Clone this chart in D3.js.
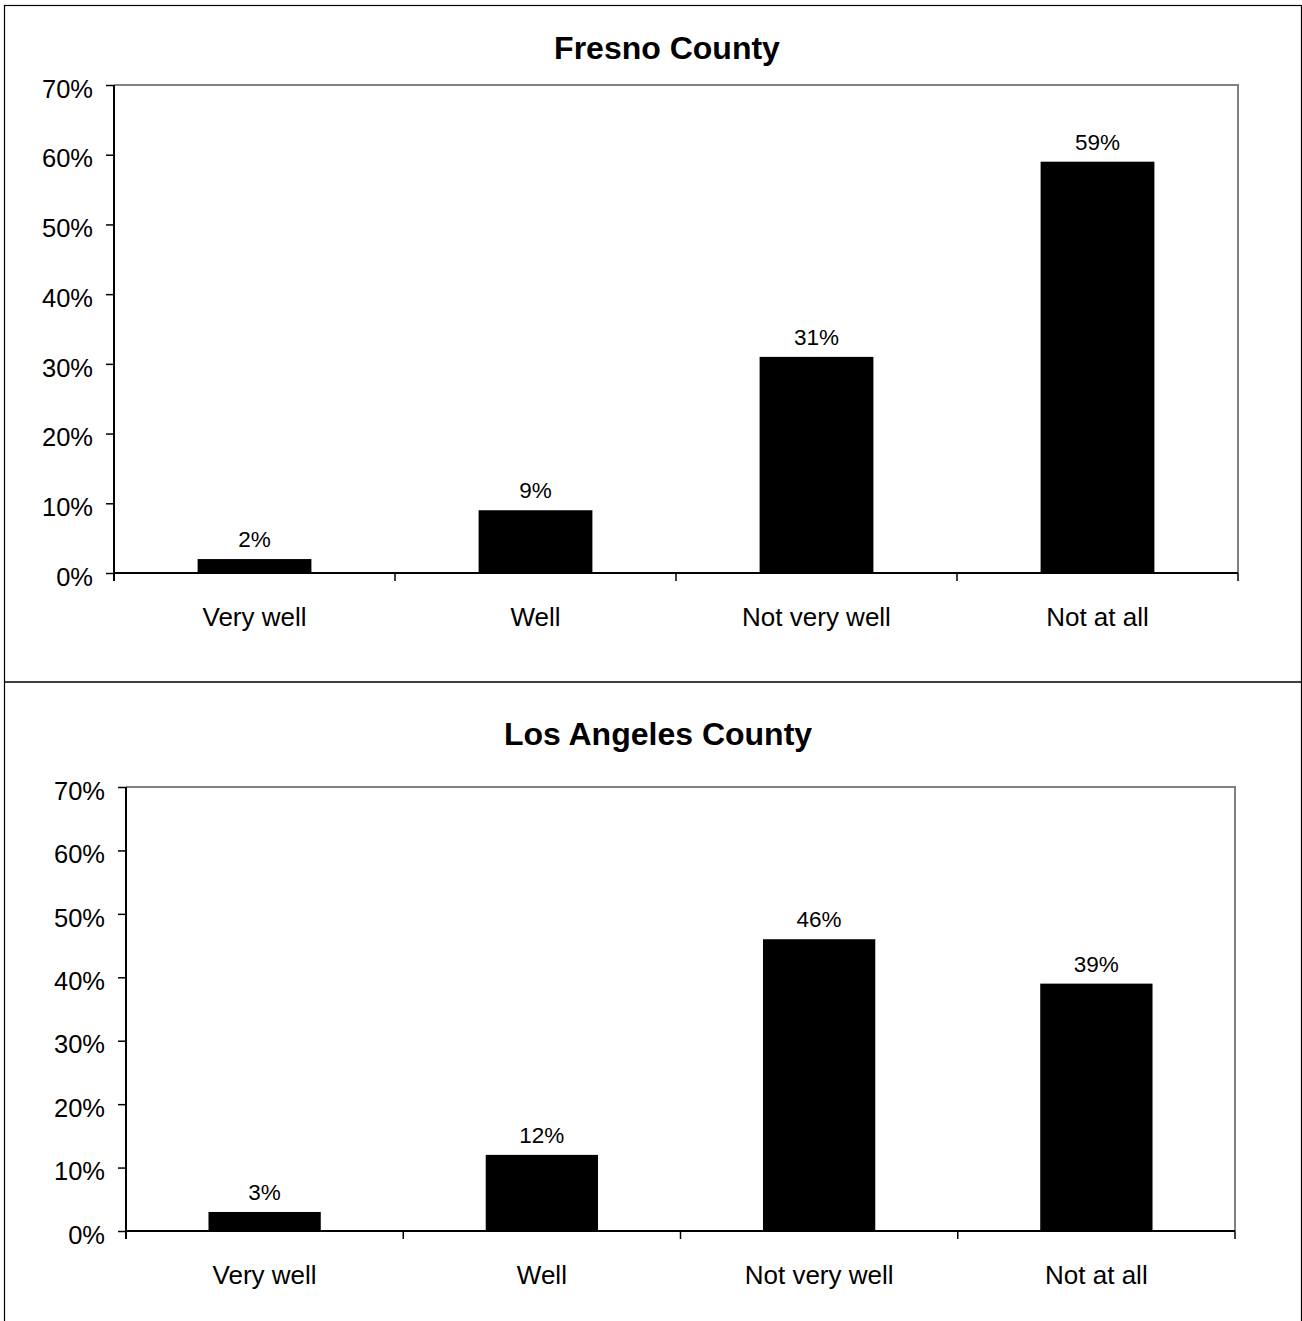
<!DOCTYPE html>
<html>
<head>
<meta charset="utf-8">
<script src="https://cdn.jsdelivr.net/npm/d3@7"></script>
<style>
  html, body { margin: 0; padding: 0; background: #fff; }
  svg { display: block; font-family: "Liberation Sans", Arial, Helvetica, sans-serif; }
</style>
</head>
<body>
<svg id="chart" width="1302" height="1321"></svg>
<script>
// Survey answers and shares for the two counties
const categories = ["Very well", "Well", "Not very well", "Not at all"];
const fresnoValues = [2, 9, 31, 59];
const losAngelesValues = [3, 12, 46, 39];
const yTicks = [0, 10, 20, 30, 40, 50, 60, 70];
const titles = ["Fresno County", "Los Angeles County"];

const svg = d3.select("#chart");

// Outer frame and divider between the two chart panels
svg.append("rect")
  .attr("x", 4.5).attr("y", 5.5)
  .attr("width", 1297).attr("height", 1330)
  .attr("fill", "none").attr("stroke", "#000").attr("stroke-width", 1.2);
svg.append("line")
  .attr("x1", 4.5).attr("x2", 1302).attr("y1", 682).attr("y2", 682)
  .attr("stroke", "#000").attr("stroke-width", 1.5);

const panels = [
  { title: titles[0], values: fresnoValues, titleX: 667, titleY: 59,
    left: 114, right: 1238, top: 85, bottom: 573 },
  { title: titles[1], values: losAngelesValues, titleX: 658, titleY: 745,
    left: 126, right: 1235, top: 787, bottom: 1231 }
];

panels.forEach(p => {
  const g = svg.append("g");

  const x = d3.scaleBand()
    .domain(categories)
    .range([p.left, p.right])
    .paddingInner(0.595)
    .paddingOuter(0.2975);

  const xEdges = d3.scaleLinear()
    .domain([0, categories.length])
    .range([p.left, p.right]);

  const y = d3.scaleLinear()
    .domain([0, 70])
    .range([p.bottom, p.top]);

  // Title
  g.append("text")
    .attr("x", p.titleX)
    .attr("y", p.titleY)
    .attr("text-anchor", "middle")
    .attr("font-size", 32)
    .attr("font-weight", "bold")
    .attr("fill", "#000")
    .text(p.title);

  // Plot-area border (top and right)
  g.append("path")
    .attr("d", `M${p.left},${y(70)}H${p.right}V${y(0)}`)
    .attr("fill", "none")
    .attr("stroke", "#808080")
    .attr("stroke-width", 2);

  // Bars
  g.selectAll("rect.bar")
    .data(p.values)
    .join("rect")
    .attr("class", "bar")
    .attr("x", (d, i) => x(categories[i]))
    .attr("width", x.bandwidth())
    .attr("y", d => y(d))
    .attr("height", d => y(0) - y(d))
    .attr("fill", "#000");

  // Value labels
  g.selectAll("text.value")
    .data(p.values)
    .join("text")
    .attr("class", "value")
    .attr("x", (d, i) => x(categories[i]) + x.bandwidth() / 2)
    .attr("y", d => y(d) - 12)
    .attr("text-anchor", "middle")
    .attr("font-size", 22.5)
    .attr("fill", "#000")
    .text(d => d + "%");

  // Y axis
  const yAxis = d3.axisLeft(y)
    .tickValues(yTicks)
    .tickSize(8)
    .tickPadding(13)
    .tickFormat(d => d + "%");
  const ya = g.append("g")
    .attr("transform", `translate(${p.left},0)`)
    .call(yAxis);
  ya.select(".domain").attr("stroke", "#000").attr("stroke-width", 2)
    .attr("d", `M0,${y(70)}V${y(0) + 8}`);
  ya.selectAll(".tick line").attr("stroke", "#000").attr("stroke-width", 1.5);
  ya.selectAll(".tick text")
    .attr("font-size", 25.5)
    .attr("font-family", "'Liberation Sans', Arial, sans-serif")
    .attr("fill", "#000")
    .attr("dy", "0.48em");

  // X axis with ticks between categories
  const xa = g.append("g")
    .attr("transform", `translate(0,${p.bottom})`);
  xa.append("line")
    .attr("x1", p.left).attr("x2", p.right)
    .attr("stroke", "#000").attr("stroke-width", 2);
  xa.selectAll("line.tick")
    .data(d3.range(1, categories.length + 1))
    .join("line")
    .attr("class", "tick")
    .attr("x1", d => xEdges(d)).attr("x2", d => xEdges(d))
    .attr("y1", 0).attr("y2", 8)
    .attr("stroke", "#000").attr("stroke-width", 1.5);
  xa.selectAll("text.cat")
    .data(categories)
    .join("text")
    .attr("class", "cat")
    .attr("x", d => x(d) + x.bandwidth() / 2)
    .attr("y", 53)
    .attr("text-anchor", "middle")
    .attr("font-size", 26)
    .attr("fill", "#000")
    .text(d => d);
});
</script>
</body>
</html>
